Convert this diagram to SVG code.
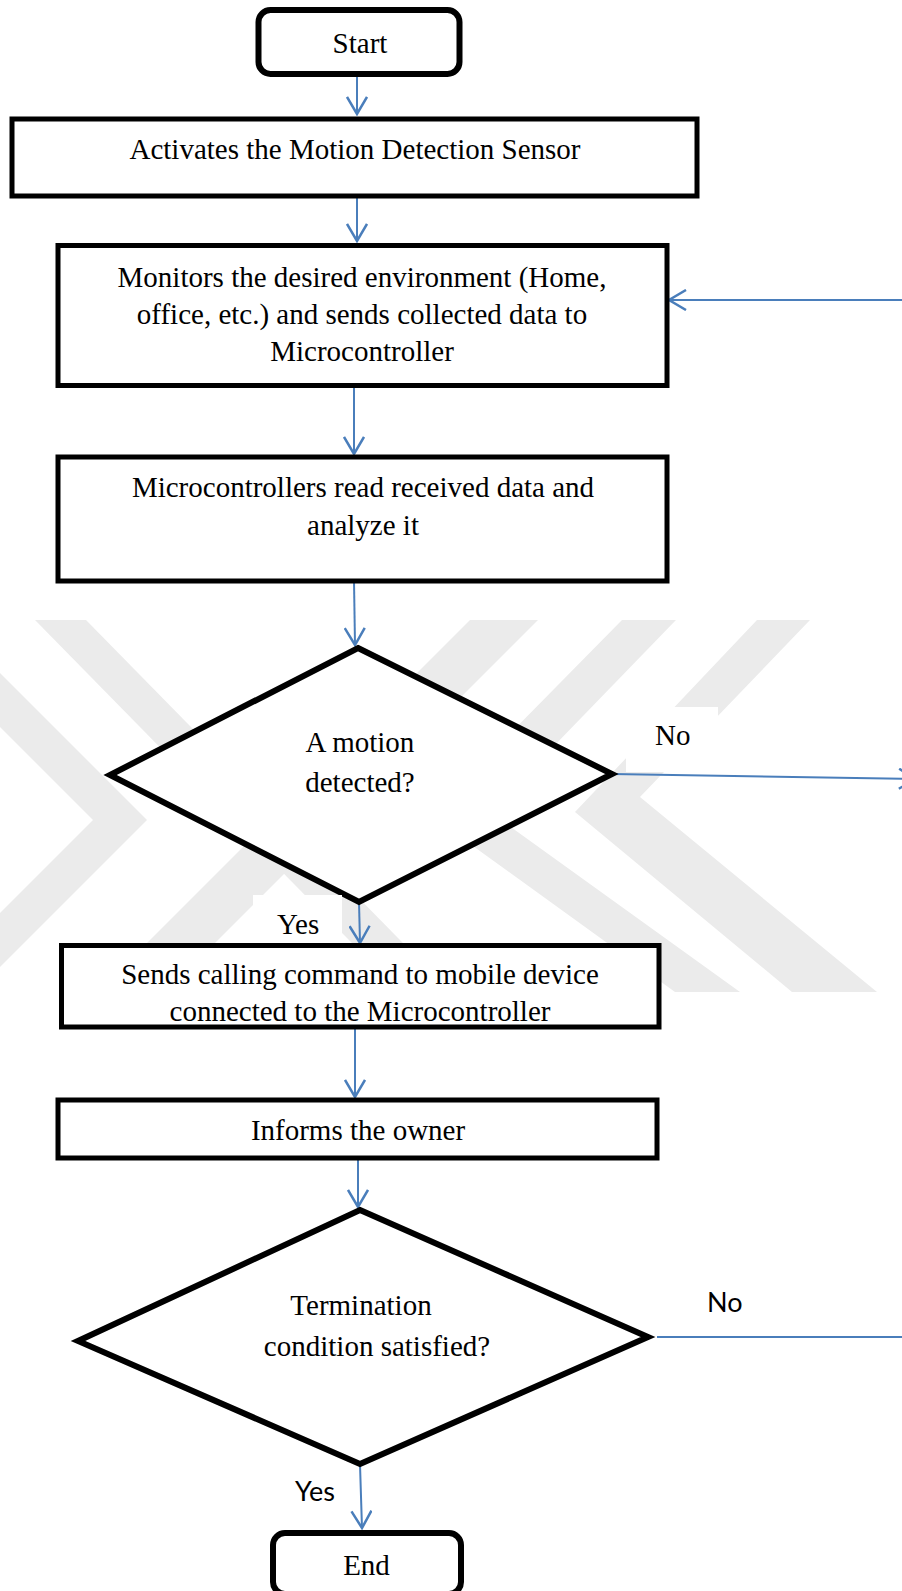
<svg xmlns="http://www.w3.org/2000/svg" width="902" height="1591" viewBox="0 0 902 1591">
  <defs>
    <marker id="arrow" markerUnits="userSpaceOnUse" viewBox="0 0 20 22" refX="18" refY="11" markerWidth="20" markerHeight="22" orient="auto">
      <path d="M1,1 L18,11 L1,21" fill="none" stroke="#4a7ebb" stroke-width="2.5"/>
    </marker>
    <clipPath id="wm-clip">
      <rect x="0" y="620" width="902" height="372"/>
    </clipPath>
  </defs>
  <style>
    .box { fill: #ffffff; stroke: #000000; stroke-width: 5; }
    .term { fill: #ffffff; stroke: #000000; stroke-width: 6; }
    .dec { fill: #ffffff; stroke: #000000; stroke-width: 6; stroke-linejoin: miter; }
    .t { font-family: "Liberation Serif", "Times New Roman", serif; font-size: 29px; fill: #000000; text-anchor: middle; }
    .lbl { font-family: "Liberation Serif", "Times New Roman", serif; font-size: 29px; fill: #000000; }
    .lbls { font-family: Lato, "Liberation Sans", sans-serif; font-size: 27px; fill: #000000; }
    .wm { fill: #ebebeb; }
    .flow { fill: none; stroke: #4a7ebb; stroke-width: 2; }
    .flow-a { fill: none; stroke: #4a7ebb; stroke-width: 2; marker-end: url(#arrow); }
  </style>

  <rect width="902" height="1591" fill="#ffffff"/>

  <!-- light background watermark: crossed strokes with chevrons either side -->
  <g id="watermark" clip-path="url(#wm-clip)">
    <polygon class="wm" points="35,620 86,620 451,992 400,992"/>
    <polygon class="wm" points="470,620 538,620 166,992 98,992"/>
    <polygon class="wm" points="-53,620 147,820 -25,992 -79,992 93,820 -107,620"/>
    <polygon class="wm" points="622,620 676,620 490,812 740,992 675,992 430,815"/>
    <polygon class="wm" points="757,620 810,620 640,797 877,992 792,992 575,812"/>
  </g>

  <g id="connectors">
    <line class="flow-a" x1="357" y1="75" x2="357" y2="114"/>
    <line class="flow-a" x1="357" y1="196" x2="357" y2="241"/>
    <line class="flow-a" x1="354" y1="386" x2="354" y2="454"/>
    <line class="flow-a" x1="354" y1="581" x2="355" y2="645"/>
    <line class="flow-a" x1="359" y1="902" x2="360" y2="943"/>
    <line class="flow-a" x1="355" y1="1027" x2="355" y2="1097"/>
    <line class="flow-a" x1="358" y1="1158" x2="358" y2="1207"/>
    <line class="flow-a" x1="360" y1="1464" x2="362" y2="1528"/>
    <line class="flow-a" x1="915" y1="300" x2="669" y2="300"/>
    <line class="flow-a" x1="612" y1="774" x2="916" y2="779"/>
    <line class="flow" x1="657" y1="1337" x2="902" y2="1337"/>
  </g>

  <g id="start">
    <rect class="term" x="258.5" y="10" width="201" height="64" rx="12"/>
    <text class="t" x="360" y="53">Start</text>
  </g>

  <g id="activate-sensor">
    <rect class="box" x="12" y="119" width="685" height="77"/>
    <text class="t" x="355" y="159">Activates the Motion Detection Sensor</text>
  </g>

  <g id="monitor">
    <rect class="box" x="58" y="245.5" width="609" height="140"/>
    <text class="t" x="362" y="287">Monitors the desired environment (Home,</text>
    <text class="t" x="362" y="324">office, etc.) and sends collected data to</text>
    <text class="t" x="362" y="361">Microcontroller</text>
  </g>

  <g id="analyze">
    <rect class="box" x="58" y="457" width="609" height="124"/>
    <text class="t" x="363" y="497">Microcontrollers read received data and</text>
    <text class="t" x="363" y="535">analyze it</text>
  </g>

  <g id="motion-decision">
    <polygon class="dec" points="358,648 612,774 359,902 110,775"/>
    <text class="t" x="360" y="752">A motion</text>
    <text class="t" x="360" y="792">detected?</text>
  </g>

  <g id="label-no-1">
    <rect x="626" y="707" width="92" height="65" fill="#ffffff"/>
    <text class="lbl" x="655" y="745">No</text>
  </g>

  <g id="label-yes-1">
    <rect x="253" y="895" width="89" height="48" fill="#ffffff"/>
    <text class="lbl" x="277" y="934">Yes</text>
  </g>

  <g id="send-call">
    <rect class="box" x="61.5" y="945.5" width="597.5" height="81.5"/>
    <text class="t" x="360" y="984">Sends calling command to mobile device</text>
    <text class="t" x="360" y="1021">connected to the Microcontroller</text>
  </g>

  <g id="inform">
    <rect class="box" x="58" y="1100" width="599" height="58"/>
    <text class="t" x="358" y="1140">Informs the owner</text>
  </g>

  <g id="termination-decision">
    <polygon class="dec" points="360,1210 648,1337 360,1464 78,1341"/>
    <text class="t" x="361" y="1315">Termination</text>
    <text class="t" x="377" y="1356">condition satisfied?</text>
  </g>

  <g id="label-no-2">
    <text class="lbls" x="707" y="1312">No</text>
  </g>

  <g id="label-yes-2">
    <text class="lbls" x="295" y="1501">Yes</text>
  </g>

  <g id="end">
    <rect class="term" x="273" y="1533" width="188" height="61" rx="12"/>
    <text class="t" x="366.5" y="1575">End</text>
  </g>
</svg>
